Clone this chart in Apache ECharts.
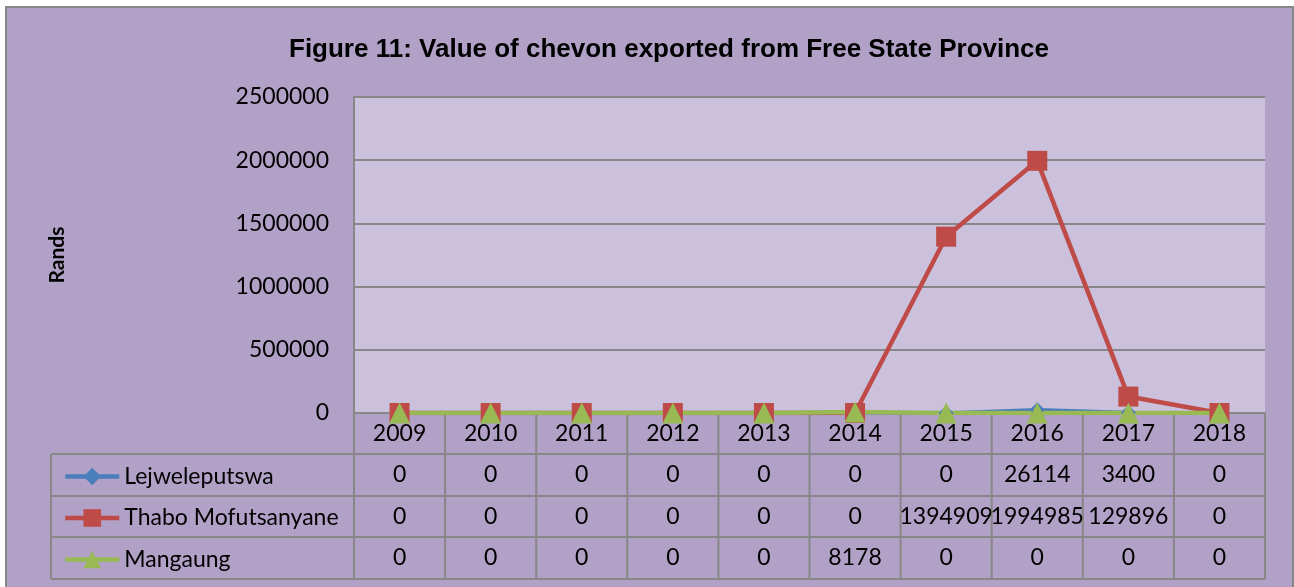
<!DOCTYPE html>
<html>
<head>
<meta charset="utf-8">
<script src="https://cdn.jsdelivr.net/npm/echarts@6/dist/echarts.min.js"></script>
<style>
  html, body { margin: 0; padding: 0; background: #fff; }
  #main { width: 1294px; height: 587px; }
</style>
</head>
<body>
<div id="main"></div>
<script>
// data
var years = ['2009', '2010', '2011', '2012', '2013', '2014', '2015', '2016', '2017', '2018'];
var lejweleputswa = [0, 0, 0, 0, 0, 0, 0, 26114, 3400, 0];
var thaboMofutsanyane = [0, 0, 0, 0, 0, 0, 1394909, 1994985, 129896, 0];
var mangaung = [0, 0, 0, 0, 0, 8178, 0, 0, 0, 0];
var seriesNames = ['Lejweleputswa', 'Thabo Mofutsanyane', 'Mangaung'];

var colors = ['#4A7EBB', '#BE4B48', '#98B954'];
var gridColor = '#878787';
var font = 'Lato, "Open Sans", sans-serif';

var GRID = { left: 354, top: 97, width: 911, height: 316 };
var tableLeft = 51;
var rowH = [41, 42, 41, 42]; // header row + 3 data rows

var rowY = [GRID.top + GRID.height];
for (var r = 0; r < rowH.length; r++) rowY.push(rowY[r] + rowH[r]);

var chart = echarts.init(document.getElementById('main'));

// one legend per table row so each key sits in its own cell
var legends = seriesNames.map(function (name, i) {
    var cy = (rowY[i + 1] + rowY[i + 2]) / 2;
    return {
        orient: 'vertical',
        left: 58,
        top: cy - 15,
        itemWidth: 54,
        itemHeight: 22,
        data: [name],
        lineStyle: { width: 4.5 },
        textStyle: { fontFamily: font, fontSize: 23, color: '#000' }
    };
});

var option = {
    backgroundColor: '#ffffff',
    animation: false,
    color: colors,
    title: {
        text: 'Figure 11: Value of chevon exported from Free State Province',
        left: 664,
        textAlign: 'center',
        top: 32,
        textStyle: {
            fontFamily: '"Liberation Sans Narrow", "Liberation Sans", sans-serif',
            fontWeight: 'bold',
            fontSize: 26,
            color: '#000'
        }
    },
    legend: legends,
    grid: {
        left: GRID.left, top: GRID.top, width: GRID.width, height: GRID.height,
        show: true, backgroundColor: '#CBC1DC', borderWidth: 0
    },
    xAxis: {
        type: 'category',
        data: years,
        boundaryGap: true,
        axisLine: { show: true, lineStyle: { color: gridColor, width: 2 } },
        axisTick: { show: false },
        axisLabel: { margin: 9, fontFamily: font, fontSize: 23, color: '#000' }
    },
    yAxis: {
        type: 'value',
        min: 0, max: 2500000, interval: 500000,
        name: 'Rands',
        nameLocation: 'middle',
        nameGap: 286,
        nameTextStyle: { fontFamily: font, fontSize: 21, fontWeight: 'bold', color: '#000' },
        axisLine: { show: true, lineStyle: { color: gridColor, width: 2 } },
        axisTick: { show: false },
        splitLine: { lineStyle: { color: gridColor, width: 2 } },
        axisLabel: {
            margin: 25, fontFamily: font, fontSize: 23, color: '#000',
            formatter: function (v) { return String(v); }
        }
    },
    series: [
        {
            name: seriesNames[0], type: 'line', data: lejweleputswa,
            symbol: 'diamond', symbolSize: 15,
            lineStyle: { width: 3.5 }, itemStyle: { color: colors[0] }
        },
        {
            name: seriesNames[1], type: 'line', data: thaboMofutsanyane,
            symbol: 'rect', symbolSize: 20,
            lineStyle: { width: 4.5 }, itemStyle: { color: colors[1] }
        },
        {
            name: seriesNames[2], type: 'line', data: mangaung,
            symbol: 'triangle', symbolSize: 21,
            lineStyle: { width: 4.5 }, itemStyle: { color: colors[2] }
        }
    ]
};
chart.setOption(option);

// data table under the plot, columns follow the category axis
function buildTable() {
    var els = [];
    var right = GRID.left + GRID.width;
    var c0 = chart.convertToPixel({ xAxisIndex: 0 }, 0);
    var c1 = chart.convertToPixel({ xAxisIndex: 0 }, 1);
    var band = c1 - c0;
    var tableBottom = rowY[rowY.length - 1];

    // outer chart frame
    els.push({
        type: 'rect', z: -10, silent: true,
        shape: { x: 6, y: 7, width: 1287, height: 590 },
        style: { fill: '#B1A1C7', stroke: gridColor, lineWidth: 2 }
    });

    for (var h = 1; h < rowY.length; h++) {
        els.push({
            type: 'line', silent: true,
            shape: { x1: tableLeft, y1: rowY[h], x2: right, y2: rowY[h] },
            style: { stroke: gridColor, lineWidth: 2 }
        });
    }
    els.push({
        type: 'line', silent: true,
        shape: { x1: tableLeft, y1: rowY[1], x2: tableLeft, y2: tableBottom },
        style: { stroke: gridColor, lineWidth: 2 }
    });
    for (var i = 0; i <= years.length; i++) {
        var x = c0 - band / 2 + i * band;
        els.push({
            type: 'line', silent: true,
            shape: { x1: x, y1: rowY[0], x2: x, y2: tableBottom },
            style: { stroke: gridColor, lineWidth: 2 }
        });
    }
    var rows = [lejweleputswa, thaboMofutsanyane, mangaung];
    rows.forEach(function (vals, ri) {
        var cy = (rowY[ri + 1] + rowY[ri + 2]) / 2;
        vals.forEach(function (v, ci) {
            els.push({
                type: 'text', silent: true,
                x: chart.convertToPixel({ xAxisIndex: 0 }, ci), y: cy,
                style: {
                    text: String(v), fontFamily: font, fontSize: 23, fill: '#000',
                    align: 'center', verticalAlign: 'middle'
                }
            });
        });
    });
    chart.setOption({ graphic: els });
}
buildTable();
</script>
</body>
</html>
